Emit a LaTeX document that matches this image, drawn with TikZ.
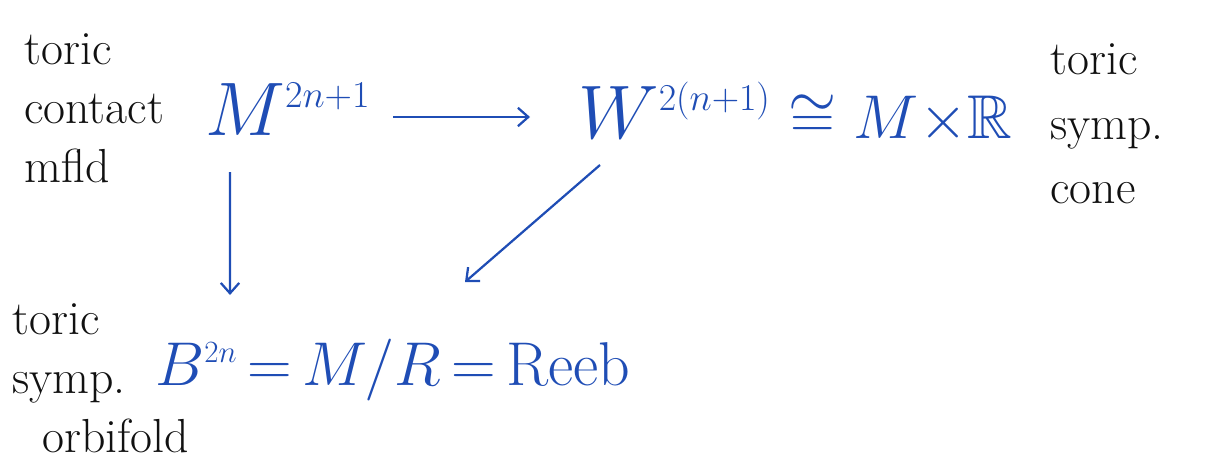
\documentclass[tikz,border=0pt]{standalone}
\usepackage{fix-cm}
\usepackage{amsmath,amssymb}
\usepackage{tikz}
\usetikzlibrary{arrows.meta,positioning}
\definecolor{InkBlue}{HTML}{1F4DB5}
\definecolor{InkBlack}{HTML}{111111}

\begin{document}
\begin{tikzpicture}[
  note/.style={text=InkBlack, align=left, inner sep=0pt, font=\fontsize{34}{42}\selectfont},
  sym/.style={text=InkBlue, inner sep=0pt, font=\fontsize{54}{60}\selectfont},
  symsmall/.style={sym, font=\fontsize{44}{50}\selectfont},
  arr/.style={draw=InkBlue, line width=1.6pt, -{Straight Barb[length=2.6mm,width=4.6mm]}}
]
  \useasboundingbox (0,0) rectangle (30.525,-11.775);
  % top row
  \node[note, anchor=west] (contact) at (0.6,-2.7) {toric\\contact\\mfld};
  \node[sym, anchor=base west] (M) at (5.125,-3.375) {$M^{\scriptscriptstyle 2n+1}$};
  \node[sym, anchor=base west] (W) at (14.45,-3.45)
    {$W^{\scriptscriptstyle 2(n+1)}$\hspace{0.45cm}{\fontsize{44}{50}\selectfont$\cong M{\times}\mathbb{R}$}};
  \node[note, anchor=west, font=\fontsize{34}{46}\selectfont] (cone) at (26.25,-3.1) {toric\\symp.\\cone};
  % bottom row
  \node[symsmall, anchor=base west] (B) at (3.875,-9.625) {$B^{\scriptscriptstyle 2n}\,{=}\,M/R\,{=}\,\mathrm{Reeb}$};
  \node[note, anchor=west] (orbi) at (0.3,-9.45) {toric\\symp.\\\hspace*{0.75cm}orbifold};
  % maps
  \draw[arr] ([xshift=4.7cm,yshift=0.45cm]M.base west) -- ([xshift=-1.2cm,yshift=0.525cm]W.base west);
  \draw[arr] ([xshift=0.625cm,yshift=-0.925cm]M.base west) -- ([xshift=1.875cm,yshift=2.25cm]B.base west);
  \draw[arr] ([xshift=0.55cm,yshift=-0.675cm]W.base west) -- ([xshift=7.75cm,yshift=2.575cm]B.base west);
\end{tikzpicture}
\end{document}
